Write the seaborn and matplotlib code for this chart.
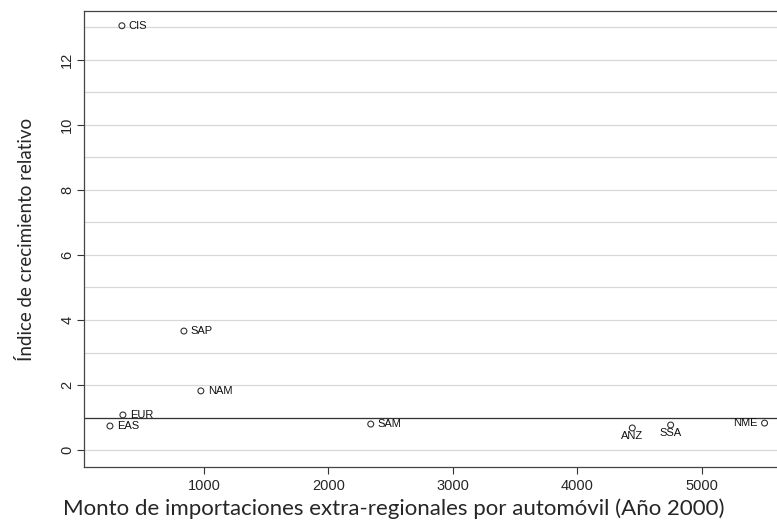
import numpy as np
import pandas as pd
import matplotlib
matplotlib.use("Agg")
import matplotlib.pyplot as plt
import seaborn as sns
from matplotlib.ticker import MultipleLocator

# datos
regiones = ["CIS", "SAP", "NAM", "EUR", "EAS", "SAM", "ANZ", "SSA", "NME"]
importaciones = [342, 840, 976, 350, 246, 2340, 4440, 4748, 5502]
crecimiento = [13.05, 3.66, 1.82, 1.08, 0.74, 0.80, 0.68, 0.77, 0.83]
# posicion de la etiqueta (estilo reloj de Stata)
posicion = ["r", "r", "r", "r", "r", "r", "b", "b", "l"]

df = pd.DataFrame({"x": importaciones, "y": crecimiento, "reg": regiones, "pos": posicion})

sns.set_style("white")
plt.rcParams["font.family"] = ["Liberation Sans", "DejaVu Sans"]

fig = plt.figure(figsize=(7.77, 5.27), dpi=100)
ax = fig.add_axes([0.108, 0.1139, 0.892, 0.865])

sns.scatterplot(data=df, x="x", y="y", ax=ax, marker="o", s=18,
                facecolor="none", edgecolor="#333333", linewidth=0.8, zorder=3)

for _, r in df.iterrows():
    if r["pos"] == "r":
        ax.annotate(r["reg"], (r["x"], r["y"]), xytext=(5, 0), textcoords="offset points",
                    ha="left", va="center", fontsize=8, color="#111111")
    elif r["pos"] == "l":
        ax.annotate(r["reg"], (r["x"], r["y"]), xytext=(-5, 0), textcoords="offset points",
                    ha="right", va="center", fontsize=8, color="#111111")
    else:
        ax.annotate(r["reg"], (r["x"], r["y"]), xytext=(0, -2), textcoords="offset points",
                    ha="center", va="top", fontsize=8, color="#111111")

ax.axhline(1, color="#333333", linewidth=0.9, zorder=2)

ax.set_xlim(37, 5602)
ax.set_ylim(-0.52, 13.5)
ax.set_xticks([1000, 2000, 3000, 4000, 5000])
ax.yaxis.set_major_locator(MultipleLocator(2))
ax.yaxis.set_minor_locator(MultipleLocator(1))
ax.grid(axis="y", which="both", color="#d8d8d8", linewidth=0.9, zorder=0)
ax.tick_params(axis="y", which="minor", length=0)
ax.tick_params(axis="both", which="major", length=5, width=0.8, color="#333333",
               labelsize=10.5, direction="out", pad=4)
ax.tick_params(axis="y", which="major", pad=2)
ax.tick_params(left=True, bottom=True)
for lbl in ax.get_yticklabels() + ax.get_xticklabels():
    lbl.set_family(["Liberation Sans", "DejaVu Sans"])
for lbl in ax.get_yticklabels():
    lbl.set_rotation(90)
    lbl.set_va("center")

for s in ["left", "bottom", "top"]:
    ax.spines[s].set_color("#444444")
    ax.spines[s].set_linewidth(0.9)
ax.spines["right"].set_visible(False)

ax.set_xlabel("Monto de importaciones extra-regionales por automóvil (Año 2000)",
              fontsize=16, family=["Lato", "DejaVu Sans"])
ax.xaxis.set_label_coords(0.447, -0.068)
ax.set_ylabel("Índice de crecimiento relativo",
              fontsize=13.5, family=["Lato", "DejaVu Sans"], labelpad=18)

fig.savefig("out.png", dpi=100, facecolor="white")
